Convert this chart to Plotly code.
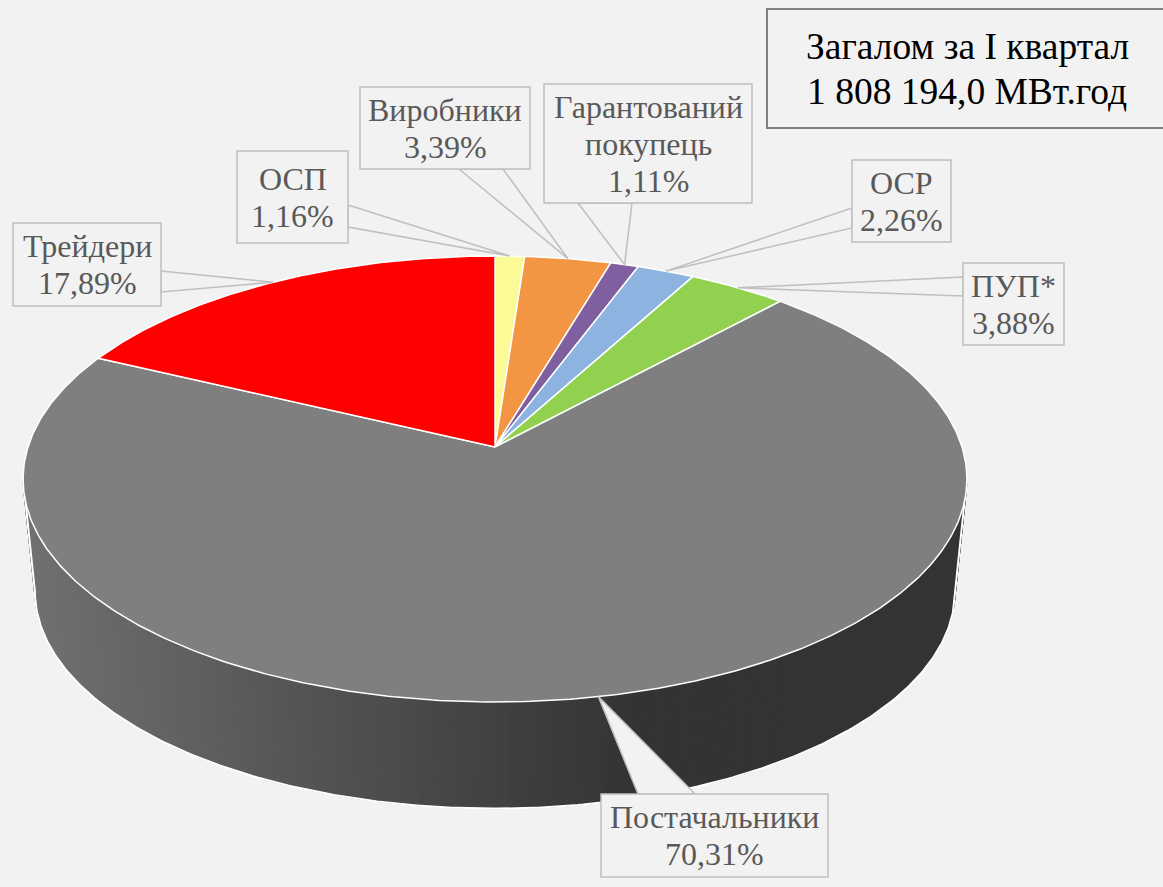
import numpy as np
import plotly.graph_objects as go

# ---------------- data ----------------
categories = ["ОСП", "Виробники", "Гарантований покупець", "ОСР", "ПУП*", "Постачальники", "Трейдери"]
shares = [1.16, 3.39, 1.11, 2.26, 3.88, 70.31, 17.89]
slice_colors = ["#FAFA96", "#F39644", "#7F5F9F", "#8DB3E0", "#92D050", "#7F7F7F", "#FF0000"]
title_lines = ["Загалом за І квартал", "1 808 194,0 МВт.год"]

# ---------------- layout of callout boxes (pixel geometry) ----------------
# box: x0, y0, x1, y1 ; pointer base: two points on the box edge
boxes = {
    "Трейдери": ((13, 223, 161, 306), ((161, 271), (161, 292))),
    "ОСП": ((237, 151, 348, 243), ((348, 205), (348, 227))),
    "Виробники": ((360, 87, 530, 169), ((459, 169), (503, 169))),
    "Гарантований покупець": ((544, 84, 752, 203), ((578, 203), (632, 203))),
    "ОСР": ((852, 160, 951, 242), ((852, 208), (852, 228))),
    "ПУП*": ((963, 263, 1064, 345), ((963, 277), (963, 296))),
    "Постачальники": ((601, 794, 828, 877), ((638, 794), (695, 794))),
}

W, H = 1163, 887
BG = "#F2F2F2"
CX, CY, RX, RY, P = 495.0, 447.0, 467.0, 218.4, 0.1435
K_BOT, D_BOT = 0.975, 113.0
SERIF = "Liberation Serif, Times New Roman, serif"
LBL_SIZE, LBL_STEP = 32, 37
TTL_SIZE, TTL_STEP = 37.5, 45


def proj(alpha_deg, k=1.0, d=0.0):
    a = np.radians(alpha_deg)
    u = np.sin(a)
    v = -np.cos(a)
    w = 1 - P * v
    return CX + RX * k * u / w, CY + d + RY * k * v / w


def hex_rgb(h):
    h = h.lstrip("#")
    return tuple(int(h[i:i + 2], 16) for i in (0, 2, 4))


def text_block(lines, cx, cy, step, font):
    n = len(lines)
    out = []
    for k, ln in enumerate(lines):
        y = cy + (k - (n - 1) / 2) * step
        out.append(dict(x=cx, y=y, xref="x", yref="y", text=ln, showarrow=False,
                        xanchor="center", yanchor="middle", font=font))
    return out


fig = go.Figure()

total = sum(shares)
bounds = np.concatenate([[0], np.cumsum(shares)]) / total * 360.0

A_R = np.degrees(np.arccos(-P))
A_L = 360.0 - A_R

# ---- side wall (front visible part) ----
for i, col in enumerate(slice_colors):
    a0, a1 = max(bounds[i], A_R), min(bounds[i + 1], A_L)
    if a1 <= a0:
        continue
    n = max(2, int((a1 - a0) / 1.2))
    edges = np.linspace(a0, a1, n + 1)
    base = hex_rgb(col)
    for j in range(n):
        aa = np.linspace(edges[j], edges[j + 1], 4)
        tx, ty = proj(aa)
        bx, by = proj(aa[::-1], K_BOT, D_BOT)
        xs = np.concatenate([tx, bx, tx[:1]])
        ys = np.concatenate([ty, by, ty[:1]])
        xm = float(np.mean(tx))
        f = 0.88 - 0.48 * np.clip((xm - 24) / (640 - 24), 0, 1)
        c = "rgb({},{},{})".format(*[int(round(ch * f)) for ch in base])
        fig.add_trace(go.Scatter(x=xs, y=ys, mode="lines", fill="toself",
                                 fillcolor=c, line=dict(color=c, width=1),
                                 hoverinfo="skip", showlegend=False))

# wall outline
aa = np.linspace(A_R, A_L, 300)
bx, by = proj(aa, K_BOT, D_BOT)
tRx, tRy = proj(np.array([A_R]))
tLx, tLy = proj(np.array([A_L]))
fig.add_trace(go.Scatter(x=np.concatenate([tRx, bx, tLx]), y=np.concatenate([tRy, by, tLy]),
                         mode="lines", line=dict(color="white", width=2),
                         hoverinfo="skip", showlegend=False))

# ---- top faces ----
for i, col in enumerate(slice_colors):
    aa = np.linspace(bounds[i], bounds[i + 1], max(3, int(shares[i] * 6)))
    tx, ty = proj(aa)
    xs = np.concatenate([[CX], tx, [CX]])
    ys = np.concatenate([[CY], ty, [CY]])
    fig.add_trace(go.Scatter(x=xs, y=ys, mode="lines", fill="toself", fillcolor=col,
                             line=dict(color="white", width=1.5),
                             hoverinfo="skip", showlegend=False))

# ---- callouts ----
shapes = []
annotations = []
font_lbl = dict(family=SERIF, size=LBL_SIZE, color="#595959")
for i, name in enumerate(categories):
    (x0, y0, x1, y1), ((px1, py1), (px2, py2)) = boxes[name]
    mid = (bounds[i] + bounds[i + 1]) / 2
    tx, ty = proj(np.array([mid]))
    tx, ty = float(tx[0]), float(ty[0])
    shapes.append(dict(type="path", xref="x", yref="y", layer="above",
                       path=f"M {px1},{py1} L {tx:.1f},{ty:.1f} L {px2},{py2} Z",
                       fillcolor=BG, line=dict(color="#BFBFBF", width=1.5)))
    shapes.append(dict(type="rect", xref="x", yref="y", layer="above",
                       x0=x0, y0=y0, x1=x1, y1=y1,
                       fillcolor=BG, line=dict(color="#BFBFBF", width=1.5)))
    pct = f"{shares[i]:.2f}".replace(".", ",") + "%"
    lines = name.split(" ") + [pct]
    annotations += text_block(lines, (x0 + x1) / 2, (y0 + y1) / 2, LBL_STEP, font_lbl)

# title box
shapes.append(dict(type="rect", xref="x", yref="y", layer="above",
                   x0=767, y0=9, x1=1170, y1=128,
                   fillcolor=BG, line=dict(color="#808080", width=2)))
annotations += text_block(title_lines, 967, 68.5, TTL_STEP,
                          dict(family=SERIF, size=TTL_SIZE, color="black"))

fig.update_layout(
    width=W, height=H, margin=dict(l=0, r=0, t=0, b=0),
    paper_bgcolor=BG, plot_bgcolor=BG,
    xaxis=dict(range=[0, W], visible=False, fixedrange=True),
    yaxis=dict(range=[H, 0], visible=False, fixedrange=True),
    shapes=shapes, annotations=annotations, showlegend=False,
)

fig.write_html("out.html", config={"displayModeBar": False},
               post_script="document.body.style.margin='0';document.body.style.overflow='hidden';")
